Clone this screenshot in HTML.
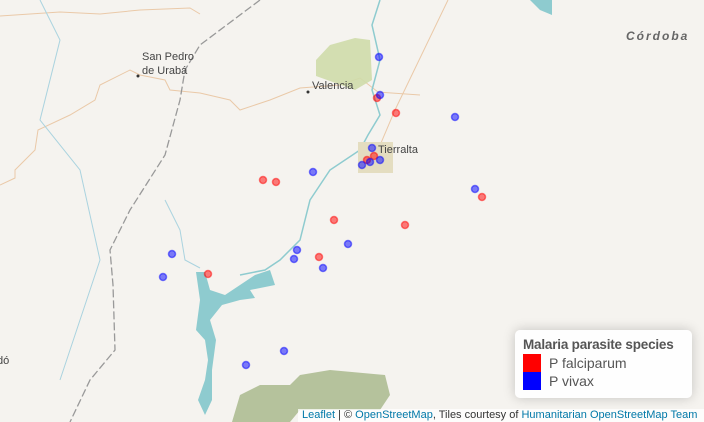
<!DOCTYPE html>
<html><head><meta charset="utf-8"><style>
html,body{margin:0;padding:0}
body{width:704px;height:422px;overflow:hidden;background:#f5f3ef;font-family:"Liberation Sans",sans-serif;position:relative}
#map{position:absolute;left:0;top:0}
.legend{position:absolute;left:515px;top:330px;width:177px;height:68px;background:rgba(255,255,255,0.9);border-radius:5px;box-shadow:0 0 12px rgba(0,0,0,0.2);box-sizing:border-box;padding:7px 8px;color:#555;font-size:14px;white-space:nowrap}
.legend .t{font-weight:bold;font-size:13.5px;margin-bottom:2px;letter-spacing:-0.2px}
.legend .row{height:18px;line-height:18px}
.legend .sw{display:inline-block;width:18px;height:18px;vertical-align:top;margin-right:8px}
.attr{position:absolute;left:298px;top:409px;width:406px;height:13px;background:rgba(255,255,255,0.75);font-size:11px;line-height:13px;color:#333;padding-left:4px;white-space:nowrap;overflow:hidden}
.attr a{color:#0078a8;text-decoration:none}
</style></head><body>
<svg id="map" width="704" height="422">
<g>
<path d="M0,16 L60,12 L100,14 L140,10 L190,8 L200,14" stroke="#eac9a8" fill="none" stroke-width="1"/>
<path d="M0,185 L15,178 L15,170 L35,150 L38,130 L70,115 L95,100 L100,85 L130,70 L140,75 L165,80 L170,90 L200,93 L230,100 L240,110 L270,100 L300,88 L340,85 L360,78 L378,92 L420,95" stroke="#eac9a8" fill="none" stroke-width="1"/>
<path d="M378,150 L395,110 L448,0" stroke="#eac9a8" fill="none" stroke-width="1"/>
<path d="M260,0 L200,45 L185,70 L180,100 L165,155 L130,210 L110,250 L113,285 L115,350 L90,380 L70,422" stroke="#999" fill="none" stroke-width="1.3" stroke-dasharray="8,3"/>
<path d="M40,0 L60,40 L40,120 L80,170 L100,260 L60,380" stroke="#aad3df" fill="none" stroke-width="1"/>
<path d="M380,0 L372,25 L380,60 L372,90 L380,115 L368,135 L360,150 L330,170 L310,200 L300,240 L280,260 L265,270 L240,275" stroke="#8ecbcf" fill="none" stroke-width="1.5"/>
<path d="M165,200 L180,230 L185,260 L200,268" stroke="#aad3df" fill="none" stroke-width="1"/>
<path d="M316,60 L330,45 L355,38 L370,40 L372,80 L355,90 L316,76 Z" fill="#cfdcaa" opacity="0.9"/>
<rect x="358" y="142" width="35" height="31" fill="#e4ddc0"/>
<path d="M196,272 L200,300 L196,330 L205,340 L208,360 L205,380 L198,400 L205,415 L212,400 L212,370 L216,340 L210,320 L222,305 L240,300 L255,298 L250,290 L275,285 L270,270 L255,275 L240,285 L225,295 L210,290 L205,272 Z" fill="#8ecbcf"/>
<path d="M232,422 L240,395 L260,385 L290,385 L300,375 L330,370 L385,375 L390,395 L380,410 L300,410 L290,422 Z" fill="#b5c29c"/>
<path d="M530,0 L552,0 L552,15 L540,10 Z" fill="#8ecbcf"/>
<circle cx="138" cy="76" r="1.5" fill="#333"/><circle cx="308" cy="92" r="1.5" fill="#333"/>
<text x="142" y="60" font-size="11" fill="#444" font-family="Liberation Sans, sans-serif">San Pedro</text>
<text x="142" y="74" font-size="11" fill="#444" font-family="Liberation Sans, sans-serif">de Urabá</text>
<text x="312" y="89" font-size="11" fill="#444" font-family="Liberation Sans, sans-serif">Valencia</text>
<text x="378" y="153" font-size="11" fill="#444" font-family="Liberation Sans, sans-serif">Tierralta</text>
<text x="626" y="40" font-size="12" fill="#666" font-style="italic" font-weight="bold" letter-spacing="2" font-family="Liberation Sans, sans-serif">Córdoba</text>
<text x="-3" y="364" font-size="11" fill="#444" font-family="Liberation Sans, sans-serif">dó</text>
</g>
<g id="pts"></g>
</svg>
<div class="legend">
<div class="t">Malaria parasite species</div>
<div class="row"><span class="sw" style="background:#f00"></span>P falciparum</div>
<div class="row"><span class="sw" style="background:#00f"></span>P vivax</div>
</div>
<div class="attr"><a href="#">Leaflet</a> | © <a href="#">OpenStreetMap</a>, Tiles courtesy of <a href="#">Humanitarian OpenStreetMap Team</a></div>
<script>
const vivaxLon=[-75.5525,-75.55,-75.3625,-75.57,-75.595,-75.575,-75.55,-75.7175,-75.3125,-75.7575,-75.63,-75.765,-75.6925,-76.07,-76.0925,-75.885,-75.79];
const vivaxLat=[8.3575,8.2625,8.2075,8.13,8.0875,8.095,8.1,8.07,8.0275,7.875,7.89,7.8525,7.83,7.865,7.8075,7.5875,7.6225];
const falcLon=[-75.5575,-75.51,-75.565,-75.5825,-75.8425,-75.81,-75.295,-75.665,-75.4875,-75.7025,-75.98];
const falcLat=[8.255,8.2175,8.11,8.1,8.05,8.045,8.0075,7.95,7.9375,7.8575,7.815];
const LON0=-76.5, LAT0=8.5, K=400;
function xs(lon){return (lon-LON0)*K;}
function ys(lat){return (LAT0-lat)*K;}
const g=document.getElementById('pts');
function draw(lons,lats,col,name){
 for(let i=0;i<lons.length;i++){
  const c=document.createElementNS('http://www.w3.org/2000/svg','circle');
  c.setAttribute('cx',xs(lons[i]));c.setAttribute('cy',ys(lats[i]));c.setAttribute('r',3.5);
  c.setAttribute('fill',col);c.setAttribute('fill-opacity',0.5);
  c.setAttribute('stroke',col);c.setAttribute('stroke-opacity',0.5);c.setAttribute('stroke-width',1.5);
  
  
  g.appendChild(c);
 }
}
draw(falcLon,falcLat,'#ff0000','falciparum-point');
draw(vivaxLon,vivaxLat,'#0000ff','vivax-point');
</script>
</body></html>
